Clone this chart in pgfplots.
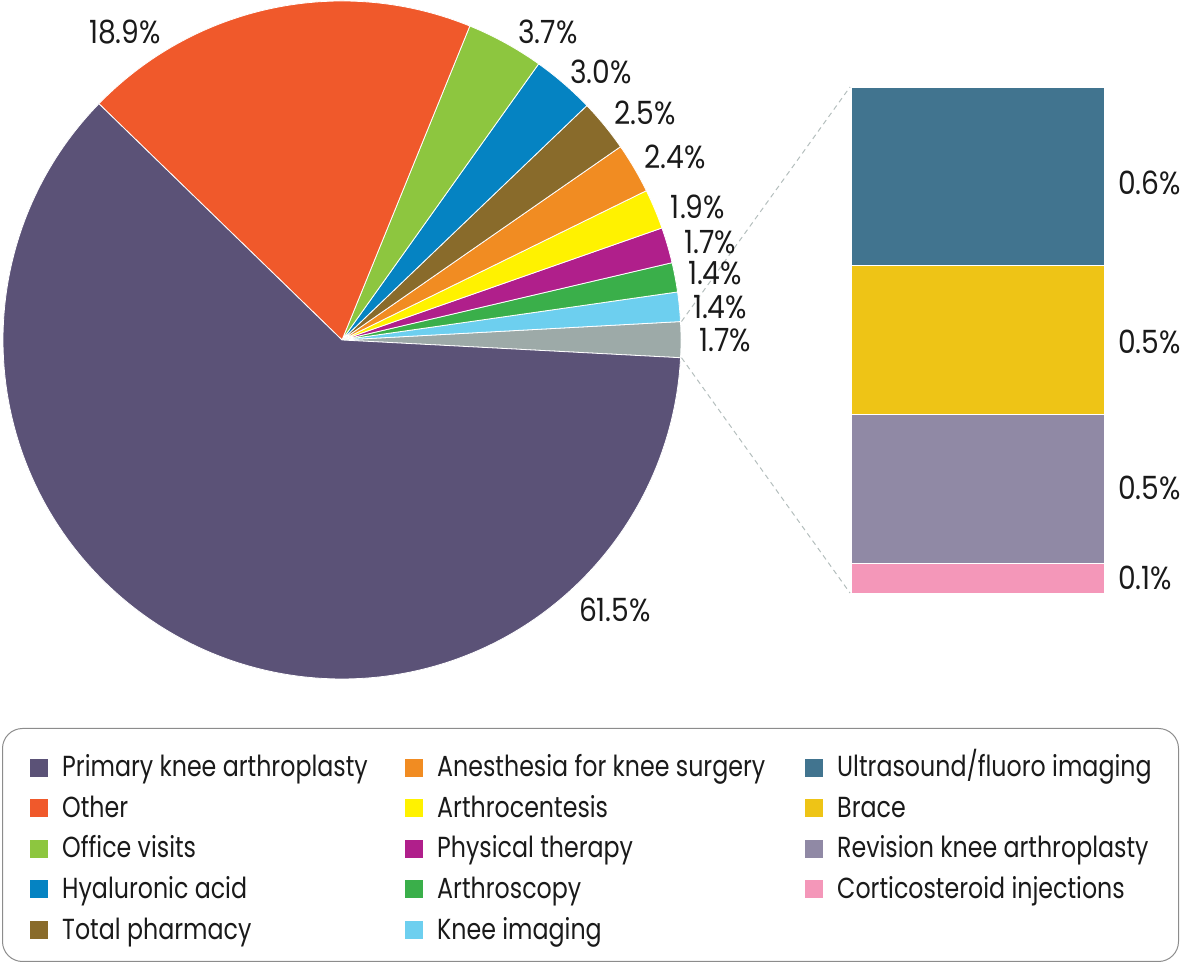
\documentclass[border=0pt]{standalone}
\usepackage{pgfplots}
\pgfplotsset{compat=1.18}
\usepackage{fontspec}
\setmainfont{Poppins}[FakeStretch=0.818]
\newfontfamily\lblfont{Poppins}[FakeStretch=0.88]
\definecolor{cPrim}{HTML}{5B5277}
\definecolor{cOther}{HTML}{F0592B}
\definecolor{cOffice}{HTML}{8DC63F}
\definecolor{cHyal}{HTML}{0583C2}
\definecolor{cPharm}{HTML}{896B2B}
\definecolor{cAnes}{HTML}{F18C22}
\definecolor{cArthroc}{HTML}{FFF200}
\definecolor{cPT}{HTML}{B01F8B}
\definecolor{cArthros}{HTML}{3AAF4A}
\definecolor{cKnee}{HTML}{6DCFEF}
\definecolor{cGray}{HTML}{9DAAA8}
\definecolor{cUltra}{HTML}{41748F}
\definecolor{cBrace}{HTML}{EEC416}
\definecolor{cRev}{HTML}{9089A5}
\definecolor{cCort}{HTML}{F497B9}
\definecolor{cDash}{HTML}{B4BEBD}
\definecolor{cTxt}{HTML}{1A1A1A}
\newcommand\lent[5]{\fill[#4] (#1bp,#3bp) rectangle ++(18bp,18bp);
  \node[anchor=base west,inner sep=0pt,font=\fontsize{29bp}{32bp}\selectfont,text=cTxt] at (#2bp,#3bp) {#5};}
\begin{document}
\begin{tikzpicture}
\useasboundingbox (0,0) rectangle (1181bp,964bp);
\begin{axis}[width=1181bp,height=964bp,scale only axis,
  xmin=0,xmax=1181,ymin=0,ymax=964,hide axis,clip=false]
% pie: values in percent, counter-clockwise from the grey slice
\xdef\cum{0}
\foreach \v/\c in {1.7/cGray,1.4/cKnee,1.4/cArthros,1.7/cPT,1.9/cArthroc,2.4/cAnes,2.5/cPharm,3.0/cHyal,3.7/cOffice,18.9/cOther,61.5/cPrim}{
  \pgfmathsetmacro\a{-3.0+\cum*3.5964}
  \pgfmathsetmacro\b{-3.0+(\cum+\v)*3.5964}
  \edef\temp{\noexpand\filldraw[fill=\c,draw=white,line width=0.8bp] (axis cs:342,624) -- ++(\a:339bp) arc[start angle=\a,end angle=\b,radius=339bp] -- cycle;}
  \temp
  \pgfmathsetmacro\n{\cum+\v}
  \xdef\cum{\n}
}
\pgfmathsetmacro\ga{-3.0}
\pgfmathsetmacro\gb{-3.0+1.7*3.5964}
\edef\temp{\noexpand\draw[cDash,line width=1bp,dash pattern=on 5bp off 4bp] (axis cs:342,624) ++(\gb:340bp) -- (axis cs:850,877);
\noexpand\draw[cDash,line width=1bp,dash pattern=on 5bp off 4bp] (axis cs:342,624) ++(\ga:340bp) -- (axis cs:850,371);}
\temp
\begin{scope}[every node/.style={font=\lblfont\fontsize{32bp}{36bp}\selectfont,text=cTxt,inner sep=0pt}]
\node at (axis cs:615,354) {61.5\%};
\node at (axis cs:125,932) {18.9\%};
\node at (axis cs:548,932) {3.7\%};
\node at (axis cs:601,892) {3.0\%};
\node at (axis cs:645,851) {2.5\%};
\node at (axis cs:675,807) {2.4\%};
\node at (axis cs:698,757) {1.9\%};
\node at (axis cs:710,722) {1.7\%};
\node at (axis cs:715,691) {1.4\%};
\node at (axis cs:720,657) {1.4\%};
\node at (axis cs:725,624) {1.7\%};
\node[anchor=west] at (axis cs:1118,781) {0.6\%};
\node[anchor=west] at (axis cs:1118,622) {0.5\%};
\node[anchor=west] at (axis cs:1118,476) {0.5\%};
\node[anchor=west] at (axis cs:1118,386) {0.1\%};
\end{scope}
\end{axis}
\begin{axis}[at={(851bp,371bp)},anchor=south west,width=253bp,height=506bp,scale only axis,
  xmin=0,xmax=1,ymin=0,ymax=1.7,hide axis,clip=false,ybar stacked,bar width=253bp]
\addplot[fill=cCort,draw=white,line width=0.8bp] coordinates {(0.5,0.1)};
\addplot[fill=cRev,draw=white,line width=0.8bp] coordinates {(0.5,0.5)};
\addplot[fill=cBrace,draw=white,line width=0.8bp] coordinates {(0.5,0.5)};
\addplot[fill=cUltra,draw=white,line width=0.8bp] coordinates {(0.5,0.6)};
\end{axis}
% legend
\draw[black!45,line width=1bp,rounded corners=20bp] (2.5bp,2.5bp) rectangle (1178.5bp,235.5bp);
\lent{30}{62}{187}{cPrim}{Primary knee arthroplasty}
\lent{30}{62}{146.5}{cOther}{Other}
\lent{30}{62}{106}{cOffice}{Office visits}
\lent{30}{62}{65.5}{cHyal}{Hyaluronic acid}
\lent{30}{62}{25}{cPharm}{Total pharmacy}
\lent{405}{437}{187}{cAnes}{Anesthesia for knee surgery}
\lent{405}{437}{146.5}{cArthroc}{Arthrocentesis}
\lent{405}{437}{106}{cPT}{Physical therapy}
\lent{405}{437}{65.5}{cArthros}{Arthroscopy}
\lent{405}{437}{25}{cKnee}{Knee imaging}
\lent{805}{837}{187}{cUltra}{Ultrasound/fluoro imaging}
\lent{805}{837}{146.5}{cBrace}{Brace}
\lent{805}{837}{106}{cRev}{Revision knee arthroplasty}
\lent{805}{837}{65.5}{cCort}{Corticosteroid injections}
\end{tikzpicture}
\end{document}
